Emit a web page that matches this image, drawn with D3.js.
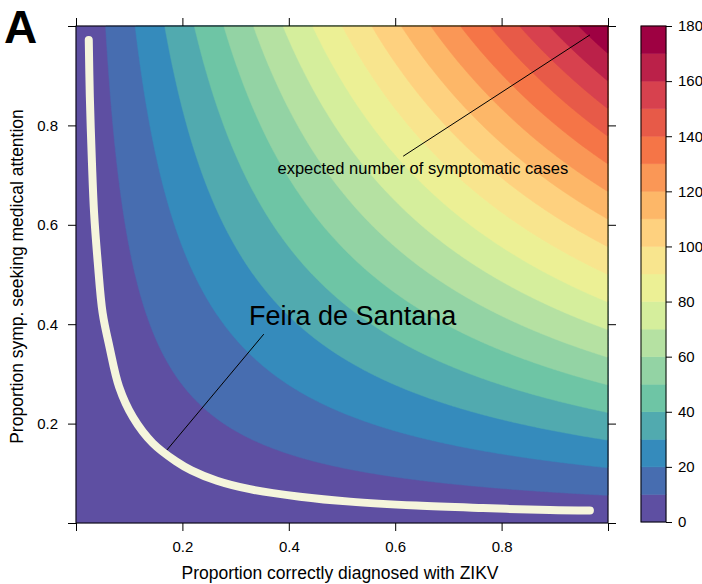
<!DOCTYPE html>
<html>
<head>
<meta charset="utf-8">
<script src="https://cdn.jsdelivr.net/npm/d3@7"></script>
<style>
  html, body { margin: 0; padding: 0; background: #fff; }
  svg { display: block; font-family: "Liberation Sans", Arial, sans-serif; }
</style>
</head>
<body>
<div id="chart"></div>
<script>
// Values
const maxExpectedCases = 180;               // value at (1, 1), top of the colour key
const caseLevels = d3.range(0, 190, 10);    // band edges 0,10,...,180
const keyTicks = [0, 20, 40, 60, 80, 100, 120, 140, 160, 180];
const axisTicks = [0, 0.2, 0.4, 0.6, 0.8, 1];
const labelledTicks = [0.2, 0.4, 0.6, 0.8];
// Feira de Santana curve
const feiraDiagnosed = [0.024, 0.026, 0.030, 0.034, 0.041, 0.050, 0.063, 0.081, 0.107, 0.144, 0.188, 0.217, 0.265, 0.327, 0.421, 0.515, 0.640, 0.765, 0.891, 0.966];
const feiraSeeking   = [0.972, 0.858, 0.724, 0.624, 0.523, 0.423, 0.354, 0.274, 0.213, 0.161, 0.124, 0.106, 0.085, 0.068, 0.053, 0.043, 0.035, 0.030, 0.026, 0.025];

// reversed 10-class Spectral, ramped to the 18 bands
const spectral = ["#5E4FA2", "#3288BD", "#66C2A5", "#ABDDA4", "#E6F598",
                  "#FEE08B", "#FDAE61", "#F46D43", "#D53E4F", "#9E0142"];

const W = 702, H = 584;
const x = d3.scaleLinear().domain([0, 1]).range([76, 608]);
const y = d3.scaleLinear().domain([0, 1]).range([523, 26]);
const keyY = d3.scaleLinear().domain([0, 180]).range([522, 26]);

const nBands = caseLevels.length - 1;
const ramp = d3.piecewise(d3.interpolateRgb, spectral);
const bandColor = d3.range(nBands).map(i => ramp(i / (nBands - 1)));

const svg = d3.select("#chart").append("svg")
  .attr("width", W).attr("height", H);

// surface grid
const n = 400, m = 400;
const values = new Float64Array(n * m);
for (let j = 0; j < m; j++) {
  for (let i = 0; i < n; i++) {
    values[i + j * n] = maxExpectedCases * ((i + 0.5) / n) * ((j + 0.5) / m);
  }
}
const contours = d3.contours().size([n, m]).thresholds(caseLevels.slice(0, nBands))(values);
const proj = d3.geoTransform({
  point: function(px, py) { this.stream.point(x(px / n), y(py / m)); }
});
const path = d3.geoPath(proj);

svg.append("g")
  .selectAll("path")
  .data(contours)
  .join("path")
  .attr("d", path)
  .attr("fill", (d, i) => bandColor[i])
  .attr("stroke", (d, i) => bandColor[i])
  .attr("stroke-width", 0.5);

// Feira de Santana curve
const line = d3.line()
  .x(d => x(d[0]))
  .y(d => y(d[1]))
  .curve(d3.curveCatmullRom);
svg.append("path")
  .datum(d3.zip(feiraDiagnosed, feiraSeeking))
  .attr("d", line)
  .attr("fill", "none")
  .attr("stroke", "#F5F5DC")
  .attr("stroke-width", 8)
  .attr("stroke-linecap", "round")
  .attr("stroke-linejoin", "round");

// annotations
svg.append("line")
  .attr("x1", x(0.615)).attr("y1", y(0.738))
  .attr("x2", x(0.966)).attr("y2", y(0.982))
  .attr("stroke", "#000").attr("stroke-width", 1);
svg.append("text")
  .attr("x", x(0.652)).attr("y", y(0.703))
  .attr("text-anchor", "middle")
  .attr("font-size", 16.5)
  .text("expected number of symptomatic cases");

svg.append("line")
  .attr("x1", x(0.353)).attr("y1", y(0.380))
  .attr("x2", x(0.171)).attr("y2", y(0.147))
  .attr("stroke", "#000").attr("stroke-width", 1);
svg.append("text")
  .attr("x", x(0.52)).attr("y", y(0.398))
  .attr("text-anchor", "middle")
  .attr("font-size", 27)
  .text("Feira de Santana");

// frame
svg.append("rect")
  .attr("x", x(0)).attr("y", y(1))
  .attr("width", x(1) - x(0)).attr("height", y(0) - y(1))
  .attr("fill", "none").attr("stroke", "#000").attr("stroke-width", 1);

const fmt = d => labelledTicks.includes(d) ? d3.format(".1f")(d) : "";
function styleAxis(g) {
  g.select(".domain").remove();
  g.selectAll(".tick line").attr("stroke", "#000");
  g.selectAll(".tick text").attr("fill", "#000").attr("font-size", 15)
    .attr("font-family", "Liberation Sans, Arial, sans-serif");
}
svg.append("g").attr("transform", `translate(0,${y(0)})`)
  .call(d3.axisBottom(x).tickValues(axisTicks).tickSize(8).tickPadding(10).tickFormat(fmt))
  .call(styleAxis);
svg.append("g").attr("transform", `translate(0,${y(1)})`)
  .call(d3.axisTop(x).tickValues(axisTicks).tickSize(8).tickFormat(""))
  .call(styleAxis);
svg.append("g").attr("transform", `translate(${x(0)},0)`)
  .call(d3.axisLeft(y).tickValues(axisTicks).tickSize(8).tickPadding(10).tickFormat(fmt))
  .call(styleAxis);
svg.append("g").attr("transform", `translate(${x(1)},0)`)
  .call(d3.axisRight(y).tickValues(axisTicks).tickSize(8).tickFormat(""))
  .call(styleAxis);

// axis titles
svg.append("text")
  .attr("x", (x(0) + x(1)) / 2 - 2).attr("y", 579)
  .attr("text-anchor", "middle").attr("font-size", 17.5)
  .text("Proportion correctly diagnosed with ZIKV");
svg.append("text")
  .attr("transform", `translate(23,${(y(0) + y(1)) / 2 + 2}) rotate(-90)`)
  .attr("text-anchor", "middle").attr("font-size", 17.5)
  .text("Proportion symp. seeking medical attention");

// panel letter
svg.append("text")
  .attr("x", 4).attr("y", 43)
  .attr("font-size", 46).attr("font-weight", "bold")
  .text("A");

// colour key
const keyX = 641, keyW = 25;
svg.append("g")
  .selectAll("rect")
  .data(d3.range(nBands))
  .join("rect")
  .attr("x", keyX)
  .attr("y", i => keyY(caseLevels[i + 1]))
  .attr("width", keyW)
  .attr("height", i => keyY(caseLevels[i]) - keyY(caseLevels[i + 1]))
  .attr("fill", i => bandColor[i])
  .attr("stroke", i => bandColor[i])
  .attr("stroke-width", 0.5);
svg.append("rect")
  .attr("x", keyX).attr("y", keyY(180))
  .attr("width", keyW).attr("height", keyY(0) - keyY(180))
  .attr("fill", "none").attr("stroke", "#000");
svg.append("g").attr("transform", `translate(${keyX + keyW},0)`)
  .call(d3.axisRight(keyY).tickValues(keyTicks).tickSize(6).tickPadding(6))
  .call(styleAxis);
</script>
</body>
</html>
